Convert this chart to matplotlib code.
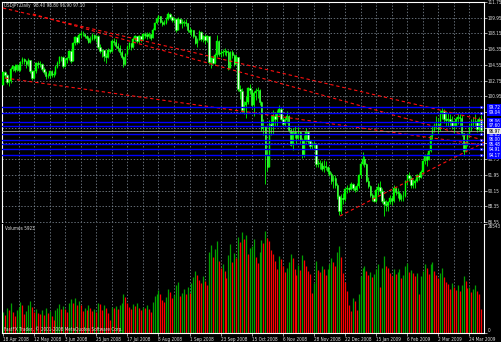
import matplotlib
matplotlib.use('Agg')
import matplotlib.pyplot as plt
from matplotlib import font_manager
import numpy as np

# narrow font if the system has one, otherwise condensed DejaVu
_names = {f.name for f in font_manager.fontManager.ttflist}
if 'Liberation Sans Narrow' in _names:
    plt.rcParams['font.family'] = ['Liberation Sans Narrow', 'DejaVu Sans']
    FS = 3.9
else:
    plt.rcParams['font.family'] = ['DejaVu Sans']
    plt.rcParams['font.stretch'] = 'condensed'
    FS = 3.35

# USDJPY daily, 18 Apr 2008 .. 1 Apr 2009 (one value per bar)
first_open = 102.3
closes = [
    103.7, 103.4, 102.6, 102.7, 104.1, 104.4, 104.0, 104.5, 104.0, 104.9,
    105.2, 105.0, 104.7, 105.1, 103.9, 103.0, 103.8, 104.8, 104.7, 104.6,
    104.1, 103.7, 103.3, 103.3, 103.8, 103.4, 103.5, 104.3, 104.8, 105.4,
    105.5, 104.4, 105.1, 105.3, 106.1, 105.0, 107.0, 107.7, 107.2, 108.0,
    108.1, 108.1, 107.9, 107.6, 107.2, 107.5, 108.0, 107.6, 107.9, 106.6,
    106.1, 106.2, 105.6, 105.4, 106.3, 106.1, 107.3, 107.2, 106.7, 106.5,
    106.0, 105.5, 104.6, 105.8, 106.6, 107.0, 106.6, 107.5, 107.8, 107.3,
    107.8, 107.5, 108.1, 108.0, 107.9, 108.1, 107.6, 108.6, 109.4, 109.8,
    110.2, 109.5, 109.2, 109.4, 109.8, 110.4, 110.0, 109.7, 109.8, 108.6,
    109.8, 109.4, 109.3, 109.5, 109.4, 108.6, 108.3, 108.5, 107.9, 107.1,
    107.4, 108.3, 107.5, 107.8, 107.4, 107.8, 104.9, 105.3, 104.8, 105.7,
    107.3, 105.8, 105.9, 106.0, 106.1, 106.0, 104.2, 106.0, 105.7, 104.6,
    105.4, 101.8, 101.6, 99.4, 99.9, 100.3, 101.9, 101.7, 99.9, 101.3,
    101.5, 101.7, 100.3, 97.3, 97.5, 94.2, 92.8, 97.8, 97.6, 98.7,
    98.4, 99.0, 99.5, 98.4, 97.8, 98.2, 98.7, 97.1, 95.4, 96.9,
    96.6, 96.2, 96.9, 95.9, 94.2, 95.9, 96.9, 95.8, 95.2, 95.4,
    95.5, 93.2, 93.2, 93.3, 92.6, 93.0, 92.9, 92.4, 92.1, 91.2,
    91.6, 90.8, 89.5, 87.8, 89.3, 89.2, 90.3, 90.4, 90.3, 90.9,
    90.4, 90.2, 90.7, 91.9, 93.2, 93.8, 93.2, 91.3, 90.7, 89.6,
    89.3, 89.0, 90.2, 90.6, 90.1, 89.0, 88.6, 88.5, 88.8, 89.3,
    88.9, 90.4, 90.0, 89.9, 89.2, 89.5, 89.5, 91.3, 91.9, 91.6,
    90.8, 91.0, 91.3, 91.9, 91.7, 92.3, 93.5, 94.1, 93.6, 94.7,
    96.4, 97.1, 97.5, 97.8, 97.2, 98.9, 99.3, 98.3, 98.2, 98.4,
    98.1, 97.5, 97.6, 98.3, 98.6, 98.5, 96.7, 94.7, 95.4, 96.5,
    97.5, 97.8, 98.1, 98.0, 97.2, 98.4, 97.1,
]
highs = [
    103.9, 103.9, 103.5, 102.9, 104.3, 104.5, 104.6, 104.6, 104.8, 105.0,
    105.5, 105.3, 105.1, 105.3, 105.0, 104.0, 104.0, 104.9, 105.0, 105.0,
    104.8, 104.3, 103.9, 103.6, 104.0, 104.0, 103.8, 104.5, 105.0, 105.6,
    105.6, 105.6, 105.3, 105.5, 106.3, 106.3, 107.2, 107.9, 107.8, 108.2,
    108.4, 108.4, 108.2, 108.0, 107.9, 107.8, 108.2, 108.1, 108.0, 108.0,
    106.9, 106.4, 106.3, 105.9, 106.5, 106.4, 107.5, 107.6, 107.5, 107.0,
    106.8, 106.2, 105.6, 105.9, 106.8, 107.2, 107.1, 107.7, 108.0, 107.9,
    108.0, 107.9, 108.2, 108.3, 108.3, 108.3, 108.1, 108.8, 109.5, 110.0,
    110.3, 110.1, 109.7, 109.7, 110.0, 110.6, 110.5, 110.1, 110.0, 109.9,
    110.0, 109.9, 109.8, 109.7, 109.8, 109.4, 108.9, 108.7, 108.6, 108.0,
    107.6, 108.6, 108.4, 108.0, 108.1, 108.0, 107.8, 105.5, 105.6, 105.9,
    108.0, 107.4, 106.2, 106.4, 106.5, 106.3, 106.2, 106.1, 106.2, 105.8,
    105.8, 105.4, 102.3, 101.9, 100.4, 101.0, 102.0, 102.4, 101.8, 101.5,
    101.9, 102.0, 101.8, 100.4, 98.4, 97.6, 94.9, 98.2, 98.8, 99.4,
    99.2, 99.4, 99.9, 99.7, 98.6, 98.6, 99.3, 98.8, 97.3, 97.3,
    97.5, 97.0, 97.4, 97.0, 96.2, 96.5, 97.3, 97.0, 96.0, 95.7,
    95.8, 95.6, 93.6, 93.6, 93.5, 93.6, 93.5, 93.0, 92.8, 92.3,
    91.9, 91.9, 91.0, 89.6, 89.8, 89.9, 90.5, 90.8, 90.6, 91.1,
    91.0, 90.7, 91.0, 92.1, 93.4, 94.6, 94.1, 93.3, 91.7, 90.8,
    89.9, 89.7, 90.5, 91.0, 91.2, 90.4, 89.3, 89.1, 89.0, 89.6,
    89.5, 90.8, 90.6, 90.5, 90.1, 89.8, 90.1, 91.4, 92.0, 92.3,
    91.8, 91.5, 91.5, 92.1, 92.2, 92.5, 93.6, 94.3, 94.5, 94.8,
    96.6, 97.6, 97.9, 98.7, 98.5, 99.4, 99.6, 99.5, 99.1, 99.0,
    98.9, 98.7, 98.1, 98.6, 98.9, 98.9, 98.8, 96.8, 96.0, 96.8,
    97.9, 98.3, 98.6, 98.9, 98.3, 98.6, 98.8,
]
lows = [
    102.2, 103.0, 102.4, 102.1, 102.5, 103.8, 103.7, 103.9, 103.9, 103.8,
    104.6, 104.6, 104.2, 104.4, 103.6, 102.8, 102.9, 103.6, 104.2, 104.3,
    103.8, 103.5, 102.9, 103.0, 103.1, 103.2, 103.2, 103.4, 104.2, 104.6,
    105.0, 104.2, 104.3, 104.8, 105.1, 104.8, 105.0, 106.8, 106.9, 107.1,
    107.6, 107.8, 107.6, 107.4, 107.0, 107.0, 107.4, 107.4, 107.2, 106.4,
    105.9, 105.5, 105.0, 104.8, 105.3, 105.9, 106.0, 106.8, 106.5, 106.1,
    105.7, 105.2, 104.3, 104.5, 105.7, 106.4, 106.3, 106.5, 107.3, 107.0,
    107.1, 107.2, 107.4, 107.6, 107.5, 107.6, 107.4, 107.6, 108.5, 109.2,
    109.6, 109.3, 109.0, 109.1, 109.2, 109.7, 109.8, 109.5, 109.4, 108.3,
    108.6, 109.2, 108.8, 109.0, 109.0, 108.3, 108.1, 107.9, 107.6, 106.9,
    106.6, 107.4, 107.3, 107.2, 106.9, 107.2, 104.6, 104.2, 104.6, 104.7,
    105.5, 105.6, 105.4, 105.6, 105.7, 105.6, 104.0, 104.2, 105.3, 104.4,
    104.6, 101.6, 100.6, 99.0, 98.9, 98.5, 100.1, 101.2, 99.6, 98.7,
    100.5, 100.8, 100.0, 97.0, 96.5, 90.9, 92.4, 92.8, 96.5, 96.6,
    97.6, 97.5, 98.8, 98.2, 97.5, 97.6, 97.9, 96.9, 95.2, 94.8,
    96.2, 95.5, 95.9, 95.6, 93.9, 94.0, 95.7, 95.5, 94.9, 94.9,
    95.0, 92.9, 92.8, 92.6, 92.4, 92.3, 92.5, 92.1, 91.8, 90.9,
    90.4, 90.5, 89.2, 87.3, 87.5, 88.6, 89.0, 89.9, 90.0, 90.2,
    90.2, 90.0, 90.1, 90.5, 91.6, 93.1, 92.8, 91.1, 90.5, 89.4,
    89.0, 88.8, 88.8, 89.7, 89.9, 88.7, 87.2, 87.8, 87.8, 88.6,
    88.5, 88.8, 89.6, 89.3, 88.9, 88.9, 89.0, 89.4, 90.8, 91.2,
    90.4, 90.5, 90.4, 91.1, 91.4, 91.6, 92.2, 93.2, 93.0, 93.6,
    94.6, 96.1, 96.9, 97.2, 96.6, 97.0, 98.3, 97.9, 97.5, 97.5,
    97.6, 97.2, 96.8, 97.4, 97.8, 97.6, 96.4, 94.1, 94.6, 95.2,
    96.3, 97.0, 97.4, 97.6, 96.9, 97.0, 96.9,
]
volumes = [
    5200, 4300, 6100, 5500, 7200, 5000, 4100, 5600, 6300, 7600,
    6800, 4700, 5300, 6900, 7800, 6400, 5100, 5900, 4800, 4600,
    5500, 4400, 6200, 4900, 5300, 4200, 3100, 5600, 6000, 7100,
    5800, 6600, 5900, 5200, 7300, 8200, 7400, 8600, 6900, 7700,
    6800, 5400, 6100, 5700, 6900, 6200, 5300, 5900, 5100, 7400,
    7000, 5600, 6700, 6100, 4800, 3200, 6300, 6000, 6500, 5900,
    6800, 7400, 9400, 8700, 7200, 6400, 5900, 7000, 6600, 7300,
    6200, 5500, 6400, 6000, 6800, 5800, 5200, 7600, 8900, 9500,
    10400, 9600, 8100, 7500, 8700, 10800, 9900, 8600, 9200, 11700,
    12400, 9100, 9800, 10600, 9400, 11300, 9700, 12100, 13600, 15200,
    14100, 12800, 12200, 13900, 12700, 11600, 19800, 21500, 18600, 20400,
    22300, 17600, 15800, 16900, 15200, 13400, 19100, 21600, 17300, 19500,
    18200, 23400, 22100, 24600, 22800, 23900, 19200, 20600, 21300, 22900,
    18400, 17100, 19700, 22600, 21800, 24800, 23200, 22500, 20100, 19300,
    17500, 15600, 18700, 17900, 16300, 14800, 15900, 17400, 19200, 18300,
    15700, 14200, 16600, 15400, 18900, 17700, 16200, 15100, 14300, 9800,
    12100, 17600, 15300, 14900, 16200, 15500, 14100, 15700, 16800, 18300,
    17200, 16400, 19800, 21200, 18600, 14700, 12300, 10200, 6800, 5400,
    8600, 7900, 5600, 9400, 13800, 15900, 16400, 15200, 14100, 14900,
    13600, 14400, 15500, 16800, 11200, 15900, 18700, 16300, 15800, 14600,
    13900, 15700, 14300, 14800, 15600, 13400, 14200, 16400, 17100, 14900,
    15300, 14600, 13900, 14700, 9600, 13800, 15200, 16700, 15900, 14400,
    16900, 17400, 15100, 14200, 13300, 14600, 15800, 13700, 12400, 11900,
    10800, 12100, 11300, 10500, 11600, 10200, 11800, 13900, 12600, 10900,
    11100, 9900, 10700, 11800, 10300, 9400, 5923,
]
volume_scale_top = 26543

date_labels = ['18 Apr 2008', '12 May 2008', '3 Jun 2008', '25 Jun 2008',
               '17 Jul 2008', '8 Aug 2008', '1 Sep 2008', '23 Sep 2008',
               '15 Oct 2008', '6 Nov 2008', '28 Nov 2008', '22 Dec 2008',
               '15 Jan 2009', '6 Feb 2009', '2 Mar 2009', '24 Mar 2009']
label_every = 16          # bars between date labels
grid_every = 8            # bars between vertical grid lines

price_ticks = [111.75, 109.95, 108.15, 106.35, 104.55, 102.75, 100.95, 99.15,
               97.35, 95.55, 93.75, 91.95, 90.15, 88.35, 86.55]

# horizontal lines drawn on the chart (blue) and the bid line
h_levels = [99.72, 99.04, 98.06, 97.60, 96.63, 96.00, 95.48, 94.91, 94.17]
bid_level = 96.97

# trend lines: (bar, price) anchors, drawn as rays to the right edge
trend_lines = [((0.0, 111.06), (246.9, 98.23)),
               ((15.4, 110.37), (246.9, 95.94)),
               ((1.0, 103.04), (246.9, 95.37)),
               ((173.4, 87.24), (246.9, 95.60))]

W, H = 502, 342
fig = plt.figure(figsize=(W / 100, H / 100), dpi=100, facecolor='black')


def px_box(x0, y0, x1, y1):
    return [x0 / W, 1 - y1 / H, (x1 - x0) / W, (y1 - y0) / H]


ax = fig.add_axes(px_box(2, 2, 484, 222))
axv = fig.add_axes(px_box(2, 224, 484, 333), sharex=ax)

n = len(closes)
idx = np.arange(n)
c = np.array(closes)
o = np.array([first_open] + closes[:-1])
hi = np.array(highs)
lo = np.array(lows)

LIME = '#00ff00'
GRID = '#8a96a3'
TXT = '#e0e0e0'

for a in (ax, axv):
    a.set_facecolor('black')
    a.set_xlim(-0.5, 247.5)
    for s in a.spines.values():
        s.set_color('white')
        s.set_linewidth(0.8)
    for x in range(grid_every, n + 1, grid_every):
        a.axvline(x, color=GRID, lw=0.5, ls=(0, (2, 2.5)), zorder=0)

ax.spines['bottom'].set_visible(False)
axv.spines['top'].set_visible(False)
ax.set_ylim(price_ticks[-1], price_ticks[0])
for p in price_ticks[1:]:
    ax.axhline(p, color=GRID, lw=0.5, ls=(0, (2, 2.5)), zorder=0, clip_on=False)

# candles
ax.vlines(idx, lo, hi, color=LIME, lw=0.6, zorder=3)
bull = c >= o
ax.bar(idx[bull], (c - o)[bull], bottom=o[bull], width=0.75,
       color=LIME, edgecolor=LIME, lw=0.3, zorder=4)
ax.bar(idx[~bull], (o - c)[~bull], bottom=c[~bull], width=0.75,
       color='#e8ffe8', edgecolor=LIME, lw=0.4, zorder=4)

# trend lines
for (x0, y0), (x1, y1) in trend_lines:
    k = (y1 - y0) / (x1 - x0)
    xe = 247.5
    ax.plot([x0, xe], [y0, y0 + k * (xe - x0)], color='#ff1010',
            lw=0.8, ls=(0, (3, 2.5)), zorder=5)

# horizontal lines
for lv in h_levels:
    ax.axhline(lv, color='#0000ff', lw=1.0, zorder=6)
    ax.plot([246.2], [lv], marker='s', ms=1.8, mfc='white', mec='#0000ff',
            mew=0.4, zorder=7, clip_on=False)
ax.axhline(bid_level, color='#a0a0a0', lw=0.6, zorder=6)

# right price scale
ax.yaxis.tick_right()
ax.set_yticks(price_ticks)
ax.set_yticklabels([f'{p:.2f}' for p in price_ticks])
ax.tick_params(axis='y', colors=TXT, labelsize=FS, length=2, width=0.5, pad=0.8)
ax.tick_params(axis='x', bottom=False, labelbottom=False)

ylab = ax.get_yaxis_transform()
for lv in h_levels:
    ax.text(1.009, lv, f'{lv:.2f}', transform=ylab, color='white', fontsize=FS,
            va='center', ha='left', zorder=10, clip_on=False,
            bbox=dict(boxstyle='square,pad=0.2', fc='#0000ff', ec='#0000ff', lw=0))
ax.text(1.009, bid_level, f'{bid_level:.2f}', transform=ylab, color='black',
        fontsize=FS, va='center', ha='left', zorder=11, clip_on=False,
        bbox=dict(boxstyle='square,pad=0.2', fc='#e8e8e8', ec='#e8e8e8', lw=0))

# volumes: green when above the previous bar, red otherwise
v = np.array(volumes)
up = np.r_[True, v[1:] > v[:-1]]
axv.vlines(idx[up], 0, v[up], color='#00a000', lw=0.9)
axv.vlines(idx[~up], 0, v[~up], color='#ff0000', lw=0.9)
axv.set_ylim(0, volume_scale_top)
axv.yaxis.tick_right()
axv.set_yticks([0, volume_scale_top])
axv.set_yticklabels(['0', str(volume_scale_top)])
axv.tick_params(axis='y', colors=TXT, labelsize=FS, length=2, width=0.5, pad=0.8)
axv.get_yticklabels()[1].set_va('top')
axv.get_yticklabels()[0].set_va('bottom')

label_pos = list(range(0, label_every * len(date_labels), label_every))
axv.set_xticks(label_pos)
axv.set_xticklabels(date_labels, ha='left')
axv.tick_params(axis='x', colors=TXT, labelsize=FS, length=2, width=0.5, pad=0.6)

last = n - 1
fig.text(4 / W, 1 - 5 / H,
         f'USDJPY,Daily  {o[last]:.2f} {hi[last]:.2f} {lo[last]:.2f} {c[last]:.2f}',
         color=TXT, fontsize=FS, va='center', ha='left')
fig.text(5 / W, 1 - 229 / H, f'Volumes {volumes[-1]}', color=TXT,
         fontsize=FS, va='center', ha='left')
fig.text(4 / W, 1 - 329 / H, 'FastFX Trader, © 2001-2008 MetaQuotes Software Corp.',
         color=TXT, fontsize=FS, va='center', ha='left')

fig.savefig('out.png', dpi=100, facecolor='black')
